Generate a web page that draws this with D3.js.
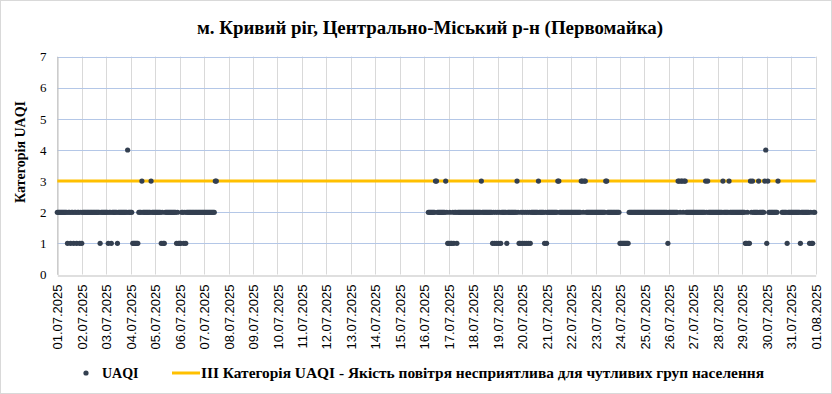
<!DOCTYPE html>
<html>
<head>
<meta charset="utf-8">
<script src="https://cdn.jsdelivr.net/npm/d3@7"></script>
<style>
  body { margin: 0; background: #fff; }
  svg { display: block; }
</style>
</head>
<body>
<svg id="chart"></svg>
<script>
const titleText = 'м. Кривий ріг, Центрально-Міський р-н (Первомайка)';
const yTitle = 'Категорія UAQI';
const seriesName = 'UAQI';
const thresholdName = 'ІІІ Категорія UAQI - Якість повітря несприятлива для чутливих груп населення';
const thresholdValue = 3;
const yTicks = [0, 1, 2, 3, 4, 5, 6, 7];
const dayStart = [2025, 6, 1];   // 01.07.2025
const dayCount = 31;

// hourly UAQI, one string per day (00..23 h), '-' = no data
const hourlyUAQI = [
  '222222222212212212212212', // 01.07
  '122222222222222222122222', // 02.07
  '221221222221222222222422', // 03.07
  '221111112223222222223222', // 04.07
  '222222121122222222222121', // 05.07
  '112212122222222222222222', // 06.07
  '2222222222233-----------', // 07.07
  '------------------------', // 08.07
  '------------------------', // 09.07
  '------------------------', // 10.07
  '------------------------', // 11.07
  '------------------------', // 12.07
  '------------------------', // 13.07
  '------------------------', // 14.07
  '------------------------', // 15.07
  '----22222223322222222321', // 16.07
  '121121221222222222222222', // 17.07
  '222222223222222222212121', // 18.07
  '212122222122222222232112', // 19.07
  '121212121222222232222212', // 20.07
  '122222222223322222222222', // 21.07
  '222222222233233222222222', // 22.07
  '222222222233222222222222', // 23.07
  '111111111222222222222222', // 24.07
  '222222222222222222222221', // 25.07
  '222222222332332332222222', // 26.07
  '222222222222323222222222', // 27.07
  '222223222223222222222222', // 28.07
  '222112113232222232222234', // 29.07
  '132222222223---222221222', // 30.07
  '222222222122222222121122-'.slice(0, 24) // 31.07
];

const W = 832, H = 394;
const plot = { left: 57.3, right: 815.7, top: 56.6, bottom: 274.5 };

const points = [];
hourlyUAQI.forEach((day, i) => {
  day.split('').forEach((c, h) => {
    if (c !== '-') points.push({ t: new Date(Date.UTC(dayStart[0], dayStart[1], dayStart[2] + i, h)), v: +c });
  });
});

const x = d3.scaleUtc()
  .domain([new Date(Date.UTC(dayStart[0], dayStart[1], dayStart[2])), new Date(Date.UTC(dayStart[0], dayStart[1], dayStart[2] + dayCount))])
  .range([plot.left, plot.right]);

const y = d3.scaleLinear()
  .domain([0, 7])
  .range([plot.bottom, plot.top]);

const svg = d3.select('#chart')
  .attr('width', W)
  .attr('height', H);

// chart border
svg.append('rect')
  .attr('x', 0.5).attr('y', 0.5)
  .attr('width', W - 1).attr('height', H - 1)
  .attr('fill', '#fff')
  .attr('stroke', '#d9d9d9');

// Title
svg.append('text')
  .attr('x', 430)
  .attr('y', 34)
  .attr('text-anchor', 'middle')
  .style('font-family', '"Liberation Serif", "Times New Roman", serif')
  .style('font-size', '18px')
  .style('font-weight', 'bold')
  .attr('textLength', 466)
  .attr('lengthAdjust', 'spacingAndGlyphs')
  .text(titleText);

const dayTicks = x.ticks(d3.utcDay.every(1));

// gridlines
svg.append('g')
  .selectAll('line')
  .data(dayTicks)
  .enter().append('line')
  .attr('x1', d => Math.round(x(d)) + 0.5)
  .attr('x2', d => Math.round(x(d)) + 0.5)
  .attr('y1', plot.top)
  .attr('y2', plot.bottom)
  .attr('stroke', '#d9d9d9')
  .attr('stroke-width', 1);

svg.append('g')
  .selectAll('line')
  .data(yTicks.filter(d => d > 0))
  .enter().append('line')
  .attr('x1', plot.left)
  .attr('x2', plot.right)
  .attr('y1', d => Math.round(y(d)) + 0.5)
  .attr('y2', d => Math.round(y(d)) + 0.5)
  .attr('stroke', '#b4c7e7')
  .attr('stroke-width', 1);

// Axis
const yAxisG = svg.append('g')
  .attr('transform', `translate(${Math.round(plot.left) + 0.5}, 0)`)
  .call(d3.axisLeft(y).tickValues(yTicks).tickSize(0).tickPadding(11).tickFormat(d3.format('d')));
yAxisG.select('.domain').attr('stroke', '#bfbfbf');
yAxisG.selectAll('text')
  .style('font-family', '"Liberation Serif", "Times New Roman", serif')
  .style('font-size', '13px')
  .attr('fill', '#000');

const xAxisG = svg.append('g')
  .attr('transform', `translate(0, ${Math.round(plot.bottom) + 0.5})`)
  .call(d3.axisBottom(x).tickValues(dayTicks).tickSize(0).tickSizeOuter(0).tickFormat(d3.utcFormat('%d.%m.%Y')));
xAxisG.select('.domain').attr('stroke', '#bfbfbf');
xAxisG.selectAll('text')
  .attr('transform', 'rotate(-90)')
  .attr('x', -9)
  .attr('y', 0)
  .attr('dy', '0.35em')
  .attr('text-anchor', 'end')
  .style('font-family', '"Liberation Sans", Arial, sans-serif')
  .style('font-size', '13px')
  .attr('fill', '#000');

svg.append('text')
  .attr('transform', 'rotate(-90)')
  .attr('x', -152)
  .attr('y', 25)
  .attr('text-anchor', 'middle')
  .style('font-family', '"Liberation Serif", "Times New Roman", serif')
  .style('font-size', '14px')
  .style('font-weight', 'bold')
  .text(yTitle);

// threshold line
svg.append('line')
  .attr('x1', plot.left)
  .attr('x2', plot.right)
  .attr('y1', y(thresholdValue))
  .attr('y2', y(thresholdValue))
  .attr('stroke', '#ffc000')
  .attr('stroke-width', 3);

// points
svg.append('g')
  .selectAll('circle')
  .data(points)
  .enter().append('circle')
  .attr('cx', d => x(d.t))
  .attr('cy', d => y(d.v))
  .attr('r', 2.6)
  .attr('fill', '#333f50');

// Legend
const lg = svg.append('g');
lg.append('circle')
  .attr('cx', 86).attr('cy', 373).attr('r', 2.6)
  .attr('fill', '#333f50');
lg.append('text')
  .attr('x', 102).attr('y', 378)
  .style('font-family', '"Liberation Serif", "Times New Roman", serif')
  .style('font-size', '14px')
  .style('font-weight', 'bold')
  .text(seriesName);
lg.append('line')
  .attr('x1', 172).attr('x2', 200)
  .attr('y1', 373).attr('y2', 373)
  .attr('stroke', '#ffc000')
  .attr('stroke-width', 3);
lg.append('text')
  .attr('x', 201).attr('y', 378)
  .style('font-family', '"Liberation Serif", "Times New Roman", serif')
  .style('font-size', '14px')
  .style('font-weight', 'bold')
  .attr('textLength', 563)
  .attr('lengthAdjust', 'spacingAndGlyphs')
  .text(thresholdName);
</script>
</body>
</html>
